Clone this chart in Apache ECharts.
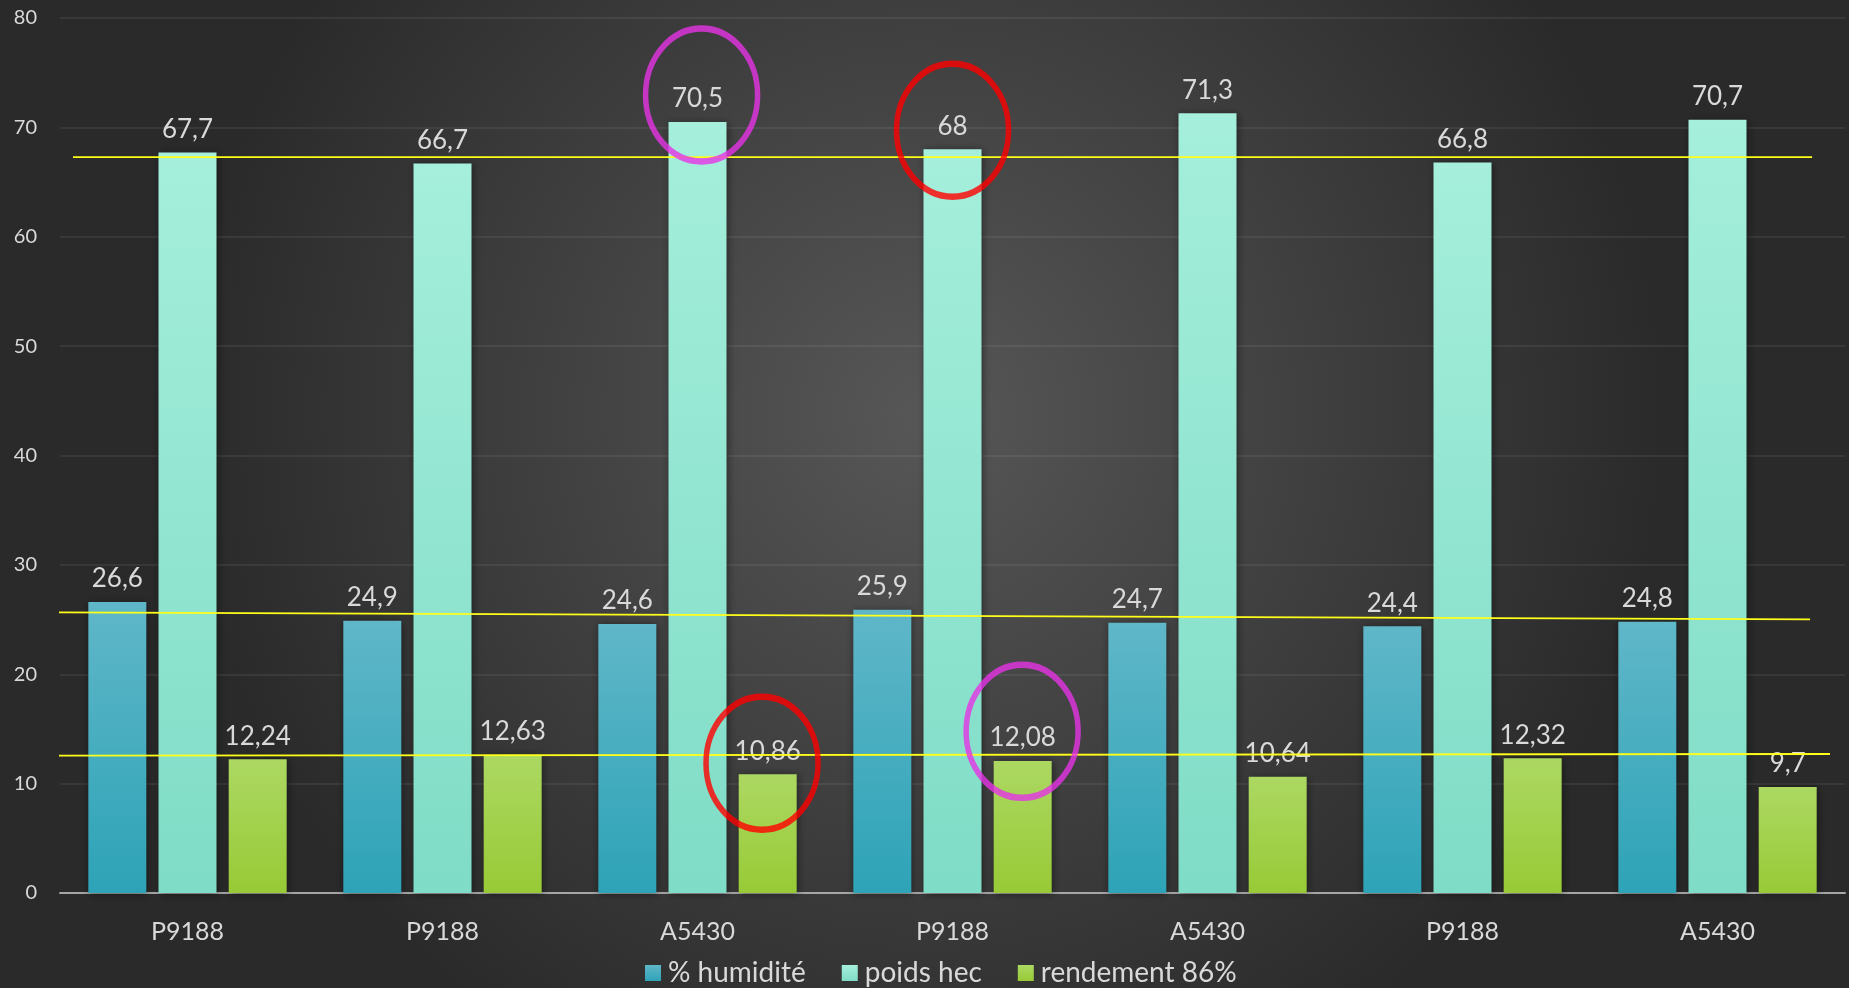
<!DOCTYPE html>
<html>
<head>
<meta charset="utf-8">
<script src="https://cdn.jsdelivr.net/npm/echarts@6/dist/echarts.min.js"></script>
<style>
html,body{margin:0;padding:0;width:100%;height:100%;overflow:hidden;}
#chart{width:1849px;height:988px;}
</style>
</head>
<body>
<div id="chart"></div>
<script>
// ---- data ----
var categories = ['P9188', 'P9188', 'A5430', 'P9188', 'A5430', 'P9188', 'A5430'];
var seriesNames = ['% humidité', 'poids hec', 'rendement 86%'];
var humidite = [26.6, 24.9, 24.6, 25.9, 24.7, 24.4, 24.8];
var poidsHec = [67.7, 66.7, 70.5, 68, 71.3, 66.8, 70.7];
var rendement = [12.24, 12.63, 10.86, 12.08, 10.64, 12.32, 9.7];
var yTicks = [0, 10, 20, 30, 40, 50, 60, 70, 80];

// hand-drawn reference lines (x in category units, y in values)
var lineTop = [[-0.449, 67.28], [6.371, 67.28]];
var lineMid = [[-0.559, 25.67], [6.363, 25.02]];
var lineLow = [[-0.61, 12.56], [6.441, 12.71]];

// annotation ellipses (x in category units, y in values)
var magentaCircles = [[2.016, 72.96], [3.273, 14.78]];
var redCircles = [[3.0, 69.74], [2.253, 11.87]];

function fmt(v) { return String(v).replace('.', ','); }

function grad(top, bottom) {
  return new echarts.graphic.LinearGradient(0, 0, 0, 1, [
    { offset: 0, color: top }, { offset: 1, color: bottom }
  ]);
}

var chart = echarts.init(document.getElementById('chart'));
var fontFam = 'Lato, "Open Sans", sans-serif';
var labelStyle = {
  show: true, position: 'top', distance: 10,
  color: '#d9d9d9', fontSize: 26, fontFamily: fontFam,
  formatter: function (p) { return fmt(p.value); }
};
var barShadow = { shadowBlur: 8, shadowColor: 'rgba(0,0,0,0.45)', shadowOffsetX: 1, shadowOffsetY: 1 };

function barSeries(name, data, top, bottom) {
  return {
    name: name, type: 'bar', data: data, barWidth: 58, barGap: '21%',
    itemStyle: Object.assign({ color: grad(top, bottom) }, barShadow),
    label: labelStyle, z: 2
  };
}

function lineSeries(data) {
  return {
    type: 'line', xAxisIndex: 1, data: data, symbol: 'none', clip: false,
    lineStyle: { color: '#ffff1a', width: 1.8 }, silent: true, z: 5,
    legendHoverLink: false
  };
}

function circleSeries(data, color) {
  return {
    type: 'scatter', xAxisIndex: 1, data: data, symbol: 'circle',
    symbolSize: [112, 133], clip: false, silent: true, z: 6,
    itemStyle: { color: 'rgba(0,0,0,0)', borderColor: color, borderWidth: 6 }
  };
}

var option = {
  backgroundColor: new echarts.graphic.RadialGradient(0.5, 0.42, 0.75, [
    { offset: 0, color: '#575757' }, { offset: 1, color: '#2a2a2a' }
  ]),
  animation: false,
  grid: { left: 60, right: 4, top: 18, bottom: 95 },
  legend: {
    data: seriesNames, left: 640, top: 954,
    itemWidth: 16, itemHeight: 16, itemGap: 36,
    icon: 'rect',
    textStyle: { color: '#d9d9d9', fontSize: 28, fontFamily: fontFam, padding: [0, 0, 0, 2] }
  },
  xAxis: [{
    type: 'category', data: categories,
    axisLine: { lineStyle: { color: '#a6a6a6', width: 2 } },
    axisTick: { show: false },
    axisLabel: { color: '#d9d9d9', fontSize: 25, fontFamily: fontFam, margin: 26 }
  }, {
    type: 'value', min: -0.5, max: 6.5, show: false
  }],
  yAxis: {
    type: 'value', min: yTicks[0], max: yTicks[yTicks.length - 1], interval: yTicks[1] - yTicks[0],
    axisLine: { show: false }, axisTick: { show: false },
    axisLabel: { color: '#d9d9d9', fontSize: 20, fontFamily: fontFam, margin: 23 },
    splitLine: { lineStyle: { color: 'rgba(255,255,255,0.09)', width: 1.5 } }
  },
  series: [
    barSeries(seriesNames[0], humidite, '#5fb7c8', '#2ea3b7'),
    barSeries(seriesNames[1], poidsHec, '#a5efdc', '#7fdcc6'),
    barSeries(seriesNames[2], rendement, '#acd862', '#98ca36'),
    lineSeries(lineTop),
    lineSeries(lineMid),
    lineSeries(lineLow),
    circleSeries(magentaCircles, '#e633e6'),
    circleSeries(redCircles, '#ff0000')
  ]
};
chart.setOption(option);
</script>
</body>
</html>
